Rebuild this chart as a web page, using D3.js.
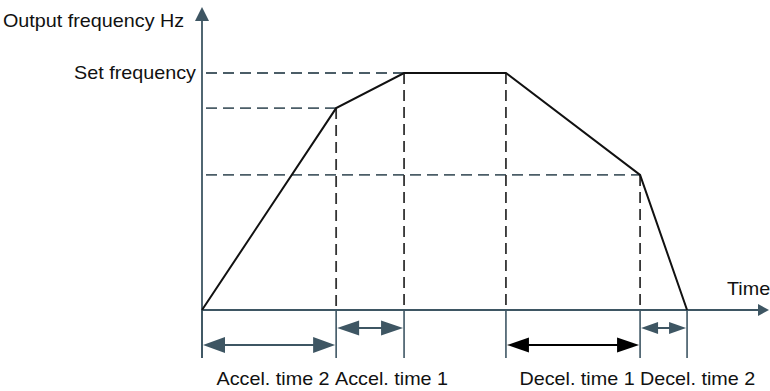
<!DOCTYPE html>
<html>
<head>
  <meta charset="utf-8">
  <title>Accel / decel time</title>
  <script src="https://cdn.jsdelivr.net/npm/d3@7"></script>
  <style>
    body { margin: 0; background: #ffffff; }
    text { font-family: "Liberation Sans", Arial, sans-serif; font-size: 19px; fill: #111111; }
  </style>
</head>
<body>
  <script>
    // time breakpoints of the profile (arbitrary units along the time axis)
    var timeMarks = [0, 2.37, 3.57, 5.37, 7.74, 8.57];
    // output frequency at each breakpoint (Hz, set frequency = 50)
    var profileFreq = [0, 42.6, 50, 50, 28.5, 0];
    // horizontal reference levels and how far right each dashed line runs (index into timeMarks)
    var refLevels = [50, 42.6, 28.5];
    var refEnds = [2, 1, 4];
    // bracket labels under the time axis
    var spanLabels = ["Accel. time 2", "Accel. time 1", "Decel. time 1", "Decel. time 2"];
    var spanFrom = [0, 1, 3, 4];
    var spanTo = [1, 2, 4, 5];

    var W = 770, H = 391;
    var axisCol = "#3e5663", dashCol = "#4b5d67";

    var x = d3.scaleLinear().domain([0, 10]).range([202, 768]);
    var y = d3.scaleLinear().domain([0, 50]).range([310, 73]);

    var svg = d3.select("body").append("svg")
      .attr("width", W)
      .attr("height", H);

    // dashed horizontal levels
    svg.selectAll(".hdash")
      .data(refLevels)
      .enter().append("line")
      .attr("x1", x(0) + 4)
      .attr("x2", function (d, i) { return x(timeMarks[refEnds[i]]); })
      .attr("y1", function (d) { return y(d); })
      .attr("y2", function (d) { return y(d); })
      .attr("stroke", dashCol)
      .attr("stroke-width", 1.8)
      .attr("stroke-dasharray", "11,6");

    // dashed verticals from the profile corners down to the time axis
    var inner = [1, 2, 3, 4];
    svg.selectAll(".vdash")
      .data(inner)
      .enter().append("line")
      .attr("x1", function (i) { return x(timeMarks[i]); })
      .attr("x2", function (i) { return x(timeMarks[i]); })
      .attr("y1", function (i) { return y(profileFreq[i]); })
      .attr("y2", y(0))
      .attr("stroke", "#333")
      .attr("stroke-width", 1.8)
      .attr("stroke-dasharray", "11,6");

    // solid ticks below the axis
    svg.selectAll(".tick")
      .data(timeMarks)
      .enter().append("line")
      .attr("x1", function (d) { return x(d); })
      .attr("x2", function (d) { return x(d); })
      .attr("y1", y(0))
      .attr("y2", 358)
      .attr("stroke", axisCol)
      .attr("stroke-width", 1.6);

    // axes
    svg.append("line")
      .attr("x1", x(0)).attr("x2", x(0))
      .attr("y1", 358).attr("y2", 18)
      .attr("stroke", axisCol).attr("stroke-width", 1.8);
    svg.append("path")
      .attr("d", "M" + x(0) + ",7 L" + (x(0) - 7) + ",21 L" + (x(0) + 7) + ",21 Z")
      .attr("fill", axisCol);

    svg.append("line")
      .attr("x1", x(0)).attr("x2", 760)
      .attr("y1", y(0)).attr("y2", y(0))
      .attr("stroke", axisCol).attr("stroke-width", 1.8);
    svg.append("path")
      .attr("d", "M769," + y(0) + " L758," + (y(0) - 6) + " L758," + (y(0) + 6) + " Z")
      .attr("fill", axisCol);

    // the frequency profile
    var line = d3.line()
      .x(function (d) { return x(d[0]); })
      .y(function (d) { return y(d[1]); });
    svg.append("path")
      .datum(d3.zip(timeMarks, profileFreq))
      .attr("d", line)
      .attr("fill", "none")
      .attr("stroke", "#111")
      .attr("stroke-width", 2);

    // double headed bracket arrows
    var rowY = [345, 328, 345, 328];
    var headLen = [22, 22, 22, 17];
    var headH = [8, 7.5, 7.5, 6];
    var arrowCol = [axisCol, axisCol, "#000000", axisCol];

    spanLabels.forEach(function (lab, i) {
      var a = x(timeMarks[spanFrom[i]]) + 1, b = x(timeMarks[spanTo[i]]) - 1, yy = rowY[i];
      var g = svg.append("g");
      g.append("line")
        .attr("x1", a + 4).attr("x2", b - 4)
        .attr("y1", yy).attr("y2", yy)
        .attr("stroke", arrowCol[i]).attr("stroke-width", 2);
      g.append("path")
        .attr("d", "M" + a + "," + yy + " L" + (a + headLen[i]) + "," + (yy - headH[i]) +
          " L" + (a + headLen[i]) + "," + (yy + headH[i]) + " Z")
        .attr("fill", arrowCol[i]);
      g.append("path")
        .attr("d", "M" + b + "," + yy + " L" + (b - headLen[i]) + "," + (yy - headH[i]) +
          " L" + (b - headLen[i]) + "," + (yy + headH[i]) + " Z")
        .attr("fill", arrowCol[i]);
    });

    // text, slightly widened like the source image
    function label(str, tx, ty, anchor) {
      svg.append("text")
        .attr("transform", "translate(" + tx + "," + ty + ") scale(1.04,1)")
        .attr("text-anchor", anchor)
        .text(str);
    }

    label("Output frequency Hz", 3, 27, "start");
    label("Set frequency", 196, 79, "end");
    label("Time", 727, 295, "start");

    var labelStart = [null, 335, null, 640];
    spanLabels.forEach(function (lab, i) {
      if (labelStart[i] == null) {
        var mid = (x(timeMarks[spanFrom[i]]) + x(timeMarks[spanTo[i]])) / 2 + 4;
        label(lab, mid, 385, "middle");
      } else {
        label(lab, labelStart[i], 385, "start");
      }
    });
  </script>
</body>
</html>
